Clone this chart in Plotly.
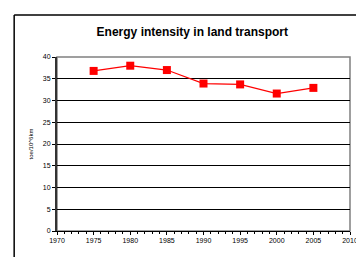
import plotly.graph_objects as go

years = [1975, 1980, 1985, 1990, 1995, 2000, 2005]
intensity = [36.8, 38.0, 37.0, 33.9, 33.7, 31.6, 32.9]
x_ticks = [1970, 1975, 1980, 1985, 1990, 1995, 2000, 2005, 2010]
y_ticks = [0, 5, 10, 15, 20, 25, 30, 35, 40]
title_text = "Energy intensity in land transport"
y_title = "toe/10^6km"

fig = go.Figure()
fig.add_trace(go.Scatter(
    x=years, y=intensity, mode="lines+markers",
    line=dict(color="#ff0000", width=1.2),
    marker=dict(symbol="square", size=8, color="#ff0000"),
    showlegend=False,
))

# page body has an 8px default margin; work in window pixels and offset
OFF = 8
W, H = 364 - OFF, 257 - OFF
L, R, T, B = 57 - OFF, 364 - 358, 57 - OFF, 257 - 231
pw = W - L - R
ph = H - T - B

def px_x(x):
    return (x - OFF - L) / pw

def px_y(y):
    return (H - B - (y - OFF)) / ph

fig.update_layout(
    width=W, height=H,
    margin=dict(l=L, r=R, t=T, b=B),
    paper_bgcolor="white", plot_bgcolor="white",
    font=dict(family="Liberation Sans, Arial", size=7, color="#000000"),
    title=dict(text="<b>" + title_text + "</b>", x=px_x(196), xanchor="center",
               xref="paper",
               y=(H - (32 - OFF)) / H, yanchor="middle",
               font=dict(size=12, color="#000000")),
    xaxis=dict(range=[1970, 2010], tickmode="array", tickvals=x_ticks,
               ticktext=[str(v) for v in x_ticks], showgrid=False,
               showline=True, linecolor="#000000", linewidth=1,
               ticks="outside", ticklen=3, tickcolor="#000000",
               tickfont=dict(color="#000000", size=7),
               ticklabeloverflow="allow",
               minor=dict(dtick=1, ticks="outside", ticklen=2, tickcolor="#000000"),
               zeroline=False, fixedrange=True),
    yaxis=dict(range=[0, 40], tickmode="array", tickvals=y_ticks,
               showgrid=True, gridcolor="#000000", gridwidth=1,
               showline=True, linecolor="#333333", linewidth=2,
               ticks="outside", ticklen=3, tickcolor="#000000",
               tickfont=dict(color="#000000", size=7),
               zeroline=False,
               title=dict(text=y_title, font=dict(size=6, color="#000000"), standoff=9)),
    shapes=[
        dict(type="rect", xref="paper", yref="paper", x0=0, x1=1, y0=0, y1=1,
             line=dict(color="#808080", width=1.5), layer="below"),
        dict(type="line", xref="paper", yref="paper",
             x0=px_x(13), x1=px_x(13), y0=px_y(15), y1=px_y(270),
             line=dict(color="#000000", width=1.5)),
        dict(type="line", xref="paper", yref="paper",
             x0=px_x(13), x1=px_x(380), y0=px_y(15), y1=px_y(15),
             line=dict(color="#000000", width=1.5)),
    ],
)

fig.write_html("out.html")
